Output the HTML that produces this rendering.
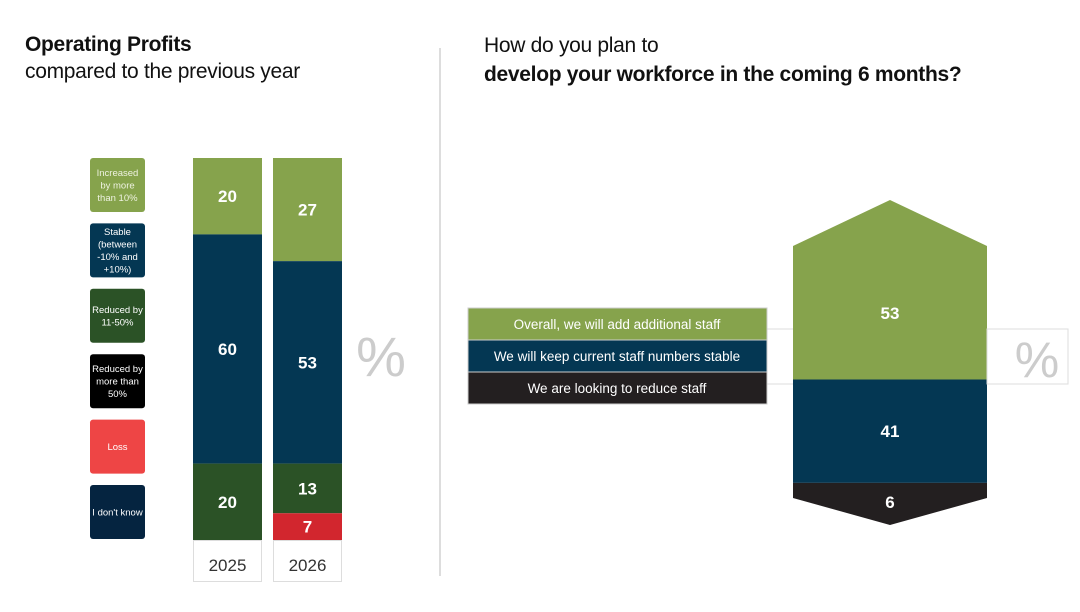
<!DOCTYPE html>
<html><head><meta charset="utf-8"><style>
body{margin:0;width:1080px;height:612px;background:#fff;font-family:"Liberation Sans",sans-serif;position:relative;overflow:hidden}
.t{position:absolute}
</style></head><body>
<div class="t" style="left:25px;top:31px;font-size:21px;color:#111;line-height:27px;letter-spacing:-0.3px"><b>Operating Profits</b><br>compared to the previous year</div>
<div class="t" style="left:484px;top:31px;font-size:21px;color:#111;line-height:29px;letter-spacing:-0.3px">How do you plan to<br><b>develop your workforce in the coming 6 months?</b></div>
<div class="t" style="left:439px;top:48px;width:2px;height:528px;background:#ddd"></div>
<svg id="chart" width="1080" height="612" style="position:absolute;left:0;top:0" font-family="Liberation Sans, sans-serif"></svg>
<script>
const years=["2025","2026"];
const leftCats=["Increased by more than 10%","Stable (between -10% and +10%)","Reduced by 11-50%","Reduced by more than 50%","Loss","I don't know"];
const leftLegendLines=[["Increased","by more","than 10%"],["Stable","(between","-10% and","+10%)"],["Reduced by","11-50%"],["Reduced by","more than","50%"],["Loss"],["I don't know"]];
const leftColors=["#86a34c","#043753","#2b5226","#000000","#d2262e","#052440"];
const legendColors=["#86a34c","#043753","#2b5226","#000000","#ee4545","#052440"];
const v2025=[20,60,20,0,0,0];
const v2026=[27,53,13,0,7,0];
const rightCats=["Overall, we will add additional staff","We will keep current staff numbers stable","We are looking to reduce staff"];
const rightVals=[53,41,6];
const rightColors=["#86a34c","#043753","#231f20"];
const svg=document.getElementById('chart');
const NS="http://www.w3.org/2000/svg";
function mk(t,a,p){const e=document.createElementNS(NS,t);for(const k in a)e.setAttribute(k,a[k]);(p||svg).appendChild(e);return e;}
// left scale
const LT=158,LB=540;const ly=v=>LT+(LB-LT)*v/100;
const barX=[193,273],barW=69;
[v2025,v2026].forEach((vals,i)=>{let c=0;
 vals.forEach((v,j)=>{if(!v)return;
  const r=mk('rect',{x:barX[i],y:ly(c),width:barW,height:ly(c+v)-ly(c),fill:leftColors[j]});
  
  
  const tx=mk('text',{x:barX[i]+barW/2,y:(ly(c)+ly(c+v))/2+6,'text-anchor':'middle','font-size':17,'font-weight':'bold',fill:'#fff'});
  tx.textContent=v;
  
  
  c+=v;});
 const b=mk('rect',{x:barX[i]+0.5,y:LB+0.5,width:barW-1,height:41,fill:'#fff',stroke:'#ddd'});
 
 
 const yt=mk('text',{x:barX[i]+barW/2,y:LB+31,'text-anchor':'middle','font-size':17,fill:'#333'});
 yt.textContent=years[i];
 
 
});
leftCats.forEach((c,i)=>{const y=158+i*65.4;
 const r=mk('rect',{x:90,y:y,width:55,height:54,rx:3,fill:legendColors[i]});
 
 
 const L=leftLegendLines[i];
 L.forEach((s,k)=>{const t=mk('text',{x:117.5,y:y+27+(k-(L.length-1)/2)*12.5+3.5,'text-anchor':'middle','font-size':9.5,fill:i==0?'#eef2e0':'#fff'});
  t.textContent=s;
  
  });
});
const lp=mk('text',{x:381,y:376,'text-anchor':'middle','font-size':56,fill:'#ccc'});lp.textContent='%';


// right
mk('rect',{x:767,y:329,width:301,height:55,fill:'none',stroke:'#ddd'});
const RT=246,RB=498,RX=793,RW=194;const ry=v=>RT+(RB-RT)*v/100;
let c=0;
rightVals.forEach((v,j)=>{let y0=ry(c),y1=ry(c+v);let pts;
 if(j==0)pts=`${RX},${RT} ${RX+RW/2},200 ${RX+RW},${RT} ${RX+RW},${y1} ${RX},${y1}`;
 else if(j==rightVals.length-1)pts=`${RX},${y0} ${RX+RW},${y0} ${RX+RW},${y1} ${RX+RW/2},525 ${RX},${y1}`;
 else pts=`${RX},${y0} ${RX+RW},${y0} ${RX+RW},${y1} ${RX},${y1}`;
 const p=mk('polygon',{points:pts,fill:rightColors[j]});
 
 
 const ty=j==0?(RT+y1)/2+6:j==rightVals.length-1?(y0+525)/2+4:(y0+y1)/2+6;
 const t=mk('text',{x:RX+RW/2,y:ty,'text-anchor':'middle','font-size':17,'font-weight':'bold',fill:'#fff'});
 t.textContent=v;
 
 
 c+=v;});
mk('rect',{x:987,y:329,width:81,height:55,fill:'#fff',stroke:'#ddd'});
const rp=mk('text',{x:1037,y:377,'text-anchor':'middle','font-size':50,fill:'#ccc'});rp.textContent='%';


rightCats.forEach((s,i)=>{const y=308+i*32;
 const r=mk('rect',{x:468,y:y,width:299,height:32,fill:rightColors[i],stroke:'#ccc'});
 
 
 const t=mk('text',{x:617,y:y+21,'text-anchor':'middle','font-size':13.5,fill:'#fff'});
 t.textContent=s;
 
 });
</script>
</body></html>
